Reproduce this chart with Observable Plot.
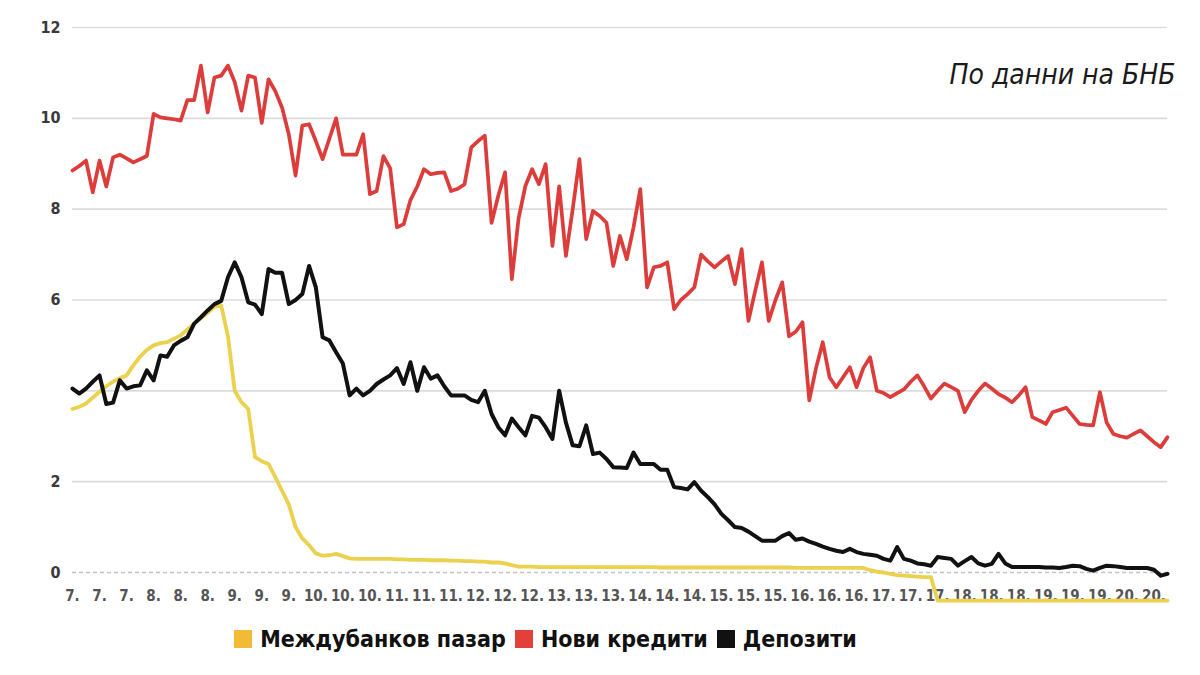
<!DOCTYPE html>
<html>
<head>
<meta charset="utf-8">
<script src="https://cdn.jsdelivr.net/npm/d3@7"></script>
<script src="https://cdn.jsdelivr.net/npm/@observablehq/plot@0.6"></script>
<style>
  html, body { margin: 0; padding: 0; background: #fff; }
  #chart { width: 1200px; height: 675px; position: relative; overflow: hidden; }
  .legend {
    display: flex; justify-content: center; align-items: center;
    margin-left: -100px; margin-top: 1px;
    font-family: "DejaVu Sans Condensed", "Liberation Sans Narrow", sans-serif;
    font-stretch: condensed; font-weight: bold; font-size: 23px; color: #111;
  }
  .legend .item { display: flex; align-items: center; margin-right: 9px; }
  .legend .sw { width: 18px; height: 18px; margin-right: 8px; }
</style>
</head>
<body>
<div id="chart"></div>
<script>
// Monthly rates, Jan 2007 – Jul 2020 (%)
const interbank = [
  3.6, 3.65, 3.72, 3.85, 3.98, 4.1, 4.2, 4.28, 4.34, 4.56,
  4.75, 4.9, 5.0, 5.05, 5.07, 5.15, 5.22, 5.35, 5.48, 5.6,
  5.72, 5.85, 5.88, 5.2, 4.0, 3.75, 3.6, 2.54, 2.45, 2.39,
  2.1, 1.8, 1.5, 1.0, 0.75, 0.6, 0.42, 0.37, 0.38, 0.41,
  0.36, 0.31, 0.3, 0.3, 0.3, 0.3, 0.3, 0.3, 0.29, 0.29,
  0.28, 0.28, 0.28, 0.27, 0.27, 0.27, 0.26, 0.26, 0.25, 0.25,
  0.24, 0.24, 0.22, 0.22, 0.2, 0.16, 0.13, 0.13, 0.13, 0.12,
  0.12, 0.12, 0.12, 0.12, 0.12, 0.12, 0.12, 0.12, 0.12, 0.12,
  0.12, 0.12, 0.12, 0.12, 0.12, 0.12, 0.12, 0.11, 0.11, 0.11,
  0.11, 0.11, 0.11, 0.11, 0.11, 0.11, 0.11, 0.11, 0.11, 0.11,
  0.11, 0.11, 0.11, 0.11, 0.11, 0.11, 0.11, 0.1, 0.1, 0.1,
  0.1, 0.1, 0.1, 0.1, 0.1, 0.1, 0.1, 0.1, 0.05, 0.02,
  0.0, -0.03, -0.06, -0.07, -0.08, -0.09, -0.1, -0.1, -0.62, -0.62,
  -0.62, -0.62, -0.62, -0.62, -0.62, -0.62, -0.62, -0.62, -0.62, -0.62,
  -0.62, -0.62, -0.62, -0.62, -0.62, -0.62, -0.62, -0.62, -0.62, -0.62,
  -0.62, -0.62, -0.62, -0.62, -0.62, -0.62, -0.62, -0.62, -0.62, -0.62,
  -0.62, -0.62, -0.62
];

const newLoans = [
  8.85, 8.95, 9.07, 8.37, 9.07, 8.5, 9.14, 9.2, 9.12, 9.03,
  9.1, 9.17, 10.1, 10.02, 10.0, 9.98, 9.95, 10.4, 10.4, 11.16,
  10.13, 10.9, 10.94, 11.16, 10.8, 10.17, 10.94, 10.9, 9.9, 10.86,
  10.6, 10.24, 9.65, 8.74, 9.84, 9.87, 9.5, 9.1, 9.55, 10.0,
  9.2, 9.2, 9.2, 9.65, 8.33, 8.4, 9.17, 8.9, 7.6, 7.67,
  8.2, 8.5, 8.88, 8.77, 8.8, 8.81, 8.4, 8.45, 8.55, 9.36,
  9.5, 9.62, 7.7, 8.3, 8.81, 6.46, 7.8, 8.51, 8.88, 8.55,
  8.99, 7.19, 8.5, 6.97, 8.0, 9.1, 7.34, 7.96, 7.85, 7.7,
  6.75, 7.41, 6.9, 7.6, 8.44, 6.28, 6.72, 6.75, 6.83, 5.8,
  6.0, 6.13, 6.28, 7.0, 6.85, 6.72, 6.85, 6.97, 6.35, 7.12,
  5.54, 6.2, 6.83, 5.54, 6.0, 6.39, 5.2, 5.3, 5.51, 3.79,
  4.5, 5.07, 4.3, 4.08, 4.3, 4.52, 4.08, 4.5, 4.74, 4.0,
  3.95, 3.86, 3.95, 4.03, 4.2, 4.34, 4.1, 3.83, 4.0, 4.16,
  4.08, 4.0, 3.53, 3.8, 4.0, 4.16, 4.05, 3.93, 3.85, 3.75,
  3.9, 4.08, 3.42, 3.35, 3.27, 3.53, 3.58, 3.63, 3.45, 3.27,
  3.25, 3.24, 3.97, 3.3, 3.05, 3.0, 2.97, 3.05, 3.13, 3.0,
  2.87, 2.76, 2.98
];

const deposits = [
  4.05, 3.94, 4.05, 4.2, 4.34, 3.71, 3.74, 4.23, 4.05, 4.1,
  4.12, 4.45, 4.23, 4.78, 4.75, 5.0, 5.1, 5.18, 5.48, 5.62,
  5.77, 5.91, 5.98, 6.5, 6.83, 6.5, 5.95, 5.9, 5.69, 6.68,
  6.6, 6.6, 5.91, 6.0, 6.13, 6.75, 6.28, 5.18, 5.11, 4.85,
  4.6, 3.9, 4.05, 3.9, 4.0, 4.15, 4.25, 4.34, 4.5, 4.15,
  4.63, 4.0, 4.52, 4.27, 4.34, 4.1, 3.9, 3.9, 3.9, 3.8,
  3.75, 4.0, 3.49, 3.2, 3.02, 3.39, 3.2, 3.02, 3.45, 3.41,
  3.2, 2.94, 4.0, 3.3, 2.8, 2.78, 3.24, 2.61, 2.64, 2.5,
  2.32, 2.31, 2.3, 2.64, 2.39, 2.39, 2.39, 2.26, 2.26, 1.88,
  1.86, 1.83, 1.99, 1.8, 1.66, 1.5, 1.29, 1.15, 1.0, 0.98,
  0.9, 0.8, 0.7, 0.7, 0.7, 0.8, 0.87, 0.72, 0.75, 0.68,
  0.63, 0.57, 0.52, 0.48, 0.45, 0.52, 0.45, 0.41, 0.39, 0.37,
  0.3, 0.26, 0.56, 0.3, 0.26, 0.2, 0.18, 0.15, 0.34, 0.32,
  0.3, 0.15, 0.25, 0.34, 0.2, 0.15, 0.19, 0.41, 0.2, 0.12,
  0.12, 0.12, 0.12, 0.12, 0.11, 0.11, 0.1, 0.12, 0.15, 0.14,
  0.08, 0.04, 0.1, 0.15, 0.14, 0.12, 0.1, 0.1, 0.1, 0.1,
  0.06, -0.07, -0.03
];

// One label every fourth month (Jan, May, Sep)
const tickLabels = [
  "7.", "7.", "7.", "8.", "8.", "8.", "9.", "9.", "9.",
  "10.", "10.", "10.", "11.", "11.", "11.", "12.", "12.", "12.",
  "13.", "13.", "13.", "14.", "14.", "14.", "15.", "15.", "15.",
  "16.", "16.", "16.", "17.", "17.", "17.", "18.", "18.", "18.",
  "19.", "19.", "19.", "20.", "20."
];
const tickStep = 4;

const yGrid = [0, 2, 4, 6, 8, 10, 12];
const yLabelTicks = [0, 2, 6, 8, 10, 12];

const seriesNames = ["Междубанков пазар", "Нови кредити", "Депозити"];
const lineColors = ["#ebd14e", "#dc3c3a", "#111111"];
const swatchColors = ["#f1bb36", "#e4403a", "#111111"];
const lineWidths = [3.8, 3.7, 4.0];

const sourceNote = "По данни на БНБ";

const seriesValues = [interbank, newLoans, deposits];
const rows = seriesValues.map((vals, s) => vals.map((v, i) => ({ i, v, s: seriesNames[s] })));
const tickIdx = tickLabels.map((_, k) => k * tickStep);

const plot = Plot.plot({
  width: 1200,
  height: 625,
  marginLeft: 72,
  marginRight: 33,
  marginTop: 27,
  marginBottom: 53,
  x: { domain: [0, interbank.length - 1] },
  y: { domain: [0, 12] },
  style: { background: "#fff", overflow: "visible" },
  marks: [
    Plot.ruleY(yGrid.filter(d => d > 0), { stroke: "#dcdcdc", strokeWidth: 1.6 }),
    Plot.ruleY([0], { stroke: "#c4c4c4", strokeWidth: 1.6, strokeDasharray: "4,3" }),
    Plot.axisY({
      ticks: yLabelTicks, tickSize: 0, tickPadding: 12,
      fontSize: 16, fill: "#3a3a3a", fontWeight: "bold",
      fontFamily: "'Liberation Sans Narrow', 'DejaVu Sans Condensed', sans-serif",
      label: null
    }),
    Plot.axisX({
      ticks: tickIdx, tickSize: 0, tickPadding: 18,
      tickFormat: (d) => tickLabels[d / tickStep],
      fontSize: 15, fill: "#555", fontWeight: "bold",
      fontFamily: "'Liberation Sans Narrow', 'DejaVu Sans Condensed', sans-serif",
      label: null
    }),
    ...rows.map((data, s) => Plot.line(data, {
      x: "i", y: "v",
      stroke: lineColors[s], strokeWidth: lineWidths[s],
      strokeLinejoin: "round", strokeLinecap: "round"
    })),
    Plot.text([sourceNote], {
      text: d => d, frameAnchor: "top-right", dx: 8, dy: 48,
      lineAnchor: "middle", textAnchor: "end",
      fontSize: 28, fontStyle: "italic", fill: "#1a1a1a",
      fontFamily: "'Liberation Sans Narrow', 'DejaVu Sans Condensed', sans-serif"
    })
  ]
});

const chart = document.getElementById("chart");
chart.appendChild(plot);

const legend = document.createElement("div");
legend.className = "legend";
seriesNames.forEach((name, s) => {
  const item = document.createElement("div");
  item.className = "item";
  const sw = document.createElement("span");
  sw.className = "sw";
  sw.style.background = swatchColors[s];
  const label = document.createElement("span");
  label.textContent = name;
  item.appendChild(sw);
  item.appendChild(label);
  legend.appendChild(item);
});
chart.appendChild(legend);
</script>
</body>
</html>
